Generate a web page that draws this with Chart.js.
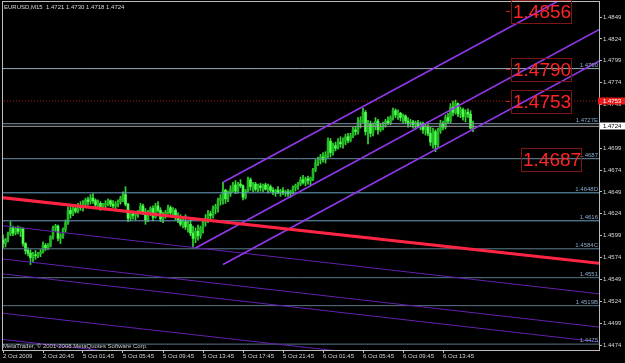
<!DOCTYPE html>
<html>
<head>
<meta charset="utf-8">
<script src="https://cdn.jsdelivr.net/npm/chart.js@4.4.1/dist/chart.umd.min.js"></script>
<style>
  html, body { margin: 0; padding: 0; background: #000; }
  canvas { display: block; }
</style>
</head>
<body>
<canvas id="myChart" width="625" height="363"></canvas>
<script>
const symbol = 'EURUSD';
const period = 'M15';

// M15 bars
const opens = [
  1.4594,1.4590,1.4595,1.4601,1.4608,1.4602,1.4607,1.4604,1.4607,1.4590,
  1.4582,1.4579,1.4574,1.4577,1.4576,1.4578,1.4580,1.4588,1.4585,1.4587,
  1.4598,1.4608,1.4610,1.4596,1.4599,1.4606,1.4614,1.4628,1.4624,1.4630,
  1.4627,1.4633,1.4631,1.4635,1.4640,1.4638,1.4642,1.4639,1.4634,1.4636,
  1.4632,1.4634,1.4636,1.4639,1.4635,1.4633,1.4635,1.4638,1.4642,1.4646,
  1.4635,1.4619,1.4624,1.4622,1.4624,1.4626,1.4633,1.4626,1.4617,1.4626,
  1.4630,1.4620,1.4633,1.4628,1.4618,1.4623,1.4626,1.4631,1.4625,1.4628,
  1.4620,1.4617,1.4612,1.4615,1.4609,1.4612,1.4602,1.4596,1.4604,1.4599,
  1.4608,1.4615,1.4619,1.4624,1.4622,1.4630,1.4632,1.4639,1.4642,1.4651,
  1.4641,1.4647,1.4652,1.4657,1.4650,1.4658,1.4656,1.4643,1.4650,1.4663,
  1.4655,1.4658,1.4652,1.4656,1.4654,1.4657,1.4652,1.4655,1.4651,1.4649,
  1.4651,1.4648,1.4650,1.4648,1.4649,1.4647,1.4650,1.4654,1.4656,1.4658,
  1.4663,1.4660,1.4664,1.4662,1.4665,1.4674,1.4682,1.4686,1.4689,1.4686,
  1.4691,1.4707,1.4694,1.4702,1.4699,1.4706,1.4704,1.4707,1.4712,1.4708,
  1.4713,1.4720,1.4718,1.4729,1.4731,1.4740,1.4718,1.4727,1.4716,1.4724,
  1.4730,1.4720,1.4724,1.4727,1.4730,1.4728,1.4734,1.4742,1.4737,1.4739,
  1.4734,1.4736,1.4730,1.4727,1.4729,1.4726,1.4728,1.4724,1.4727,1.4720,
  1.4723,1.4716,1.4706,1.4718,1.4703,1.4719,1.4727,1.4723,1.4734,1.4730,
  1.4746,1.4740,1.4750,1.4738,1.4743,1.4735,1.4740,1.4738,1.4721
];
const highs = [
  1.4600,1.4596,1.4603,1.4615,1.4610,1.4609,1.4610,1.4609,1.4608,1.4591,
  1.4585,1.4583,1.4580,1.4582,1.4580,1.4583,1.4592,1.4590,1.4590,1.4599,
  1.4610,1.4612,1.4611,1.4601,1.4608,1.4617,1.4632,1.4633,1.4632,1.4634,
  1.4636,1.4638,1.4639,1.4642,1.4643,1.4646,1.4647,1.4641,1.4640,1.4638,
  1.4636,1.4639,1.4641,1.4640,1.4639,1.4638,1.4640,1.4644,1.4649,1.4655,
  1.4636,1.4626,1.4627,1.4625,1.4628,1.4636,1.4635,1.4630,1.4628,1.4632,
  1.4633,1.4636,1.4638,1.4631,1.4626,1.4628,1.4634,1.4633,1.4631,1.4630,
  1.4625,1.4623,1.4618,1.4623,1.4616,1.4617,1.4610,1.4608,1.4611,1.4610,
  1.4618,1.4623,1.4628,1.4627,1.4633,1.4635,1.4642,1.4646,1.4660,1.4652,
  1.4650,1.4656,1.4660,1.4662,1.4660,1.4663,1.4657,1.4652,1.4666,1.4665,
  1.4660,1.4660,1.4658,1.4659,1.4658,1.4659,1.4658,1.4657,1.4654,1.4652,
  1.4655,1.4652,1.4654,1.4651,1.4652,1.4651,1.4656,1.4658,1.4660,1.4666,
  1.4668,1.4666,1.4667,1.4666,1.4676,1.4686,1.4689,1.4692,1.4694,1.4695,
  1.4711,1.4710,1.4705,1.4706,1.4710,1.4712,1.4711,1.4715,1.4716,1.4716,
  1.4723,1.4724,1.4734,1.4735,1.4745,1.4742,1.4731,1.4730,1.4728,1.4734,
  1.4732,1.4727,1.4729,1.4732,1.4735,1.4736,1.4745,1.4744,1.4743,1.4740,
  1.4738,1.4737,1.4734,1.4732,1.4731,1.4730,1.4731,1.4729,1.4729,1.4727,
  1.4726,1.4723,1.4722,1.4720,1.4722,1.4731,1.4730,1.4737,1.4739,1.4750,
  1.4753,1.4754,1.4751,1.4746,1.4745,1.4743,1.4744,1.4742,1.4730
];
const lows = [
  1.4585,1.4586,1.4592,1.4599,1.4599,1.4600,1.4601,1.4598,1.4587,1.4578,
  1.4576,1.4566,1.4569,1.4572,1.4574,1.4575,1.4579,1.4582,1.4583,1.4586,
  1.4595,1.4604,1.4593,1.4590,1.4596,1.4603,1.4612,1.4619,1.4622,1.4625,
  1.4625,1.4628,1.4627,1.4632,1.4634,1.4635,1.4636,1.4631,1.4632,1.4628,
  1.4630,1.4631,1.4633,1.4632,1.4631,1.4630,1.4632,1.4635,1.4638,1.4633,
  1.4615,1.4616,1.4618,1.4617,1.4620,1.4624,1.4623,1.4612,1.4615,1.4622,
  1.4616,1.4619,1.4626,1.4615,1.4614,1.4619,1.4624,1.4623,1.4622,1.4617,
  1.4614,1.4610,1.4608,1.4606,1.4603,1.4599,1.4585,1.4591,1.4594,1.4596,
  1.4602,1.4610,1.4614,1.4617,1.4619,1.4624,1.4626,1.4634,1.4635,1.4636,
  1.4638,1.4644,1.4649,1.4647,1.4648,1.4654,1.4640,1.4641,1.4649,1.4651,
  1.4649,1.4650,1.4649,1.4650,1.4649,1.4651,1.4648,1.4649,1.4646,1.4644,
  1.4647,1.4644,1.4646,1.4644,1.4644,1.4643,1.4647,1.4650,1.4652,1.4656,
  1.4658,1.4656,1.4658,1.4657,1.4662,1.4672,1.4679,1.4681,1.4683,1.4682,
  1.4688,1.4689,1.4691,1.4696,1.4698,1.4700,1.4699,1.4703,1.4705,1.4706,
  1.4711,1.4714,1.4715,1.4722,1.4728,1.4714,1.4704,1.4712,1.4713,1.4720,
  1.4715,1.4718,1.4720,1.4723,1.4726,1.4726,1.4731,1.4734,1.4732,1.4730,
  1.4728,1.4727,1.4723,1.4724,1.4722,1.4721,1.4723,1.4720,1.4716,1.4714,
  1.4713,1.4702,1.4699,1.4695,1.4700,1.4716,1.4720,1.4721,1.4727,1.4728,
  1.4736,1.4738,1.4735,1.4734,1.4731,1.4729,1.4734,1.4721,1.4718
];
const closes = [
  1.4590,1.4595,1.4601,1.4608,1.4602,1.4607,1.4604,1.4607,1.4590,1.4582,
  1.4579,1.4574,1.4577,1.4576,1.4578,1.4580,1.4588,1.4585,1.4587,1.4598,
  1.4608,1.4610,1.4596,1.4599,1.4606,1.4614,1.4628,1.4624,1.4630,1.4627,
  1.4633,1.4631,1.4635,1.4640,1.4638,1.4642,1.4639,1.4634,1.4636,1.4632,
  1.4634,1.4636,1.4639,1.4635,1.4633,1.4635,1.4638,1.4642,1.4646,1.4635,
  1.4619,1.4624,1.4622,1.4624,1.4626,1.4633,1.4626,1.4617,1.4626,1.4630,
  1.4620,1.4633,1.4628,1.4618,1.4623,1.4626,1.4631,1.4625,1.4628,1.4620,
  1.4617,1.4612,1.4615,1.4609,1.4612,1.4602,1.4596,1.4604,1.4599,1.4608,
  1.4615,1.4619,1.4624,1.4622,1.4630,1.4632,1.4639,1.4642,1.4651,1.4641,
  1.4647,1.4652,1.4657,1.4650,1.4658,1.4656,1.4643,1.4650,1.4663,1.4655,
  1.4658,1.4652,1.4656,1.4654,1.4657,1.4652,1.4655,1.4651,1.4649,1.4651,
  1.4648,1.4650,1.4648,1.4649,1.4647,1.4650,1.4654,1.4656,1.4658,1.4663,
  1.4660,1.4664,1.4662,1.4665,1.4674,1.4682,1.4686,1.4689,1.4686,1.4691,
  1.4707,1.4694,1.4702,1.4699,1.4706,1.4704,1.4707,1.4712,1.4708,1.4713,
  1.4720,1.4718,1.4729,1.4731,1.4740,1.4718,1.4727,1.4716,1.4724,1.4730,
  1.4720,1.4724,1.4727,1.4730,1.4728,1.4734,1.4742,1.4737,1.4739,1.4734,
  1.4736,1.4730,1.4727,1.4729,1.4726,1.4728,1.4724,1.4727,1.4720,1.4723,
  1.4716,1.4706,1.4718,1.4703,1.4719,1.4727,1.4723,1.4734,1.4730,1.4746,
  1.4740,1.4750,1.4738,1.4743,1.4735,1.4740,1.4738,1.4722,1.4724
];

// time axis: bar index -> label
const tickBars = [0, 16, 32, 48, 64, 80, 96, 112, 128, 144, 160, 176];
const tickLabels = ['2 Oct 2009', '2 Oct 20:45', '5 Oct 01:45', '5 Oct 05:45', '5 Oct 09:45', '5 Oct 13:45',
  '5 Oct 17:45', '5 Oct 21:45', '6 Oct 01:45', '6 Oct 05:45', '6 Oct 09:45', '6 Oct 13:45'];

// price axis
const priceTicks = [1.4474, 1.4499, 1.4524, 1.4549, 1.4574, 1.4599, 1.4624, 1.4649,
  1.4674, 1.4699, 1.4724, 1.4749, 1.4774, 1.4799, 1.4824, 1.4849];

// horizontal lines and their descriptions
const levelPrices = [1.4790, 1.4727, 1.4687, 1.4648, 1.4616, 1.4584, 1.4551, 1.4519, 1.4475];
const levelNames = ['1.4790', '1.4727E', '1.4687', '1.4648D', '1.4616', '1.4584C', '1.4551', '1.4519B', '1.4475'];
const bidPrice = 1.4724;
const highPrice = 1.4753;

// big text objects: price, bar index
const bigLabelPrices = [1.4856, 1.4790, 1.4753, 1.4687];
const bigLabelBars = [203, 203, 203, 207];

// trend lines as [bar, price] pairs
const redRay = [[-2, 1.4643], [240, 1.4567]];
const channelLines = [
  [[88, 1.4660], [240, 1.4895]],
  [[77, 1.4585], [240, 1.4837]],
  [[88, 1.4566], [240, 1.4801]],
];
const downLines = [
  [[-2, 1.4611], [240, 1.4532]],
  [[-2, 1.4573], [240, 1.4494]],
  [[-2, 1.4556], [240, 1.4477]],
  [[-2, 1.4511], [240, 1.4433]],
  [[-2, 1.4481], [240, 1.4403]],
];

const FONT = '"Liberation Sans", Arial, sans-serif';
const levelColors = ['#9aaebc', '#7d97aa', '#6b8ea6', '#6aa3c4', '#6aa3c4', '#5f7f90', '#567686', '#567686', '#567686'];

function seg(points, color, width, dash, order) {
  return {
    type: 'line',
    data: points.map(p => ({ x: p[0], y: p[1] })),
    borderColor: color,
    borderWidth: width,
    borderDash: dash || [],
    pointRadius: 0,
    fill: false,
    tension: 0,
    order: order,
  };
}

const wickData = opens.map((o, i) => ({ x: i, y: [lows[i], highs[i]] }));
const bodyData = opens.map((o, i) => ({ x: i, y: [Math.min(o, closes[i]), Math.max(o, closes[i])] }));
const bodyColors = opens.map((o, i) => closes[i] > o ? '#22b622' : '#4cff4c');

const datasets = [
  { type: 'bar', data: wickData, backgroundColor: '#34d834', barThickness: 1, grouped: false, order: 5 },
  { type: 'bar', data: bodyData, backgroundColor: bodyColors, barThickness: 2, minBarLength: 1, grouped: false, order: 4 },
];
levelPrices.forEach((p, i) => datasets.push(seg([[-2, p], [240, p]], levelColors[i], 1, null, 3)));
datasets.push(seg([[-2, bidPrice], [240, bidPrice]], '#9c9c9c', 1, null, 3));
datasets.push(seg([[-2, highPrice], [240, highPrice]], '#b01818', 1, [1, 2], 3));
downLines.forEach(l => datasets.push(seg(l, '#6420ae', 1, null, 2)));
channelLines.forEach(l => datasets.push(seg(l, '#9438ee', 1.6, null, 1)));
datasets.push(seg(redRay, '#ff2444', 3, null, 0));

const background = {
  id: 'background',
  beforeDraw(chart) {
    const ctx = chart.ctx;
    ctx.save();
    ctx.fillStyle = '#000';
    ctx.fillRect(0, 0, chart.width, chart.height);
    ctx.restore();
  }
};

const overlay = {
  id: 'overlay',
  afterDraw(chart) {
    const ctx = chart.ctx, a = chart.chartArea;
    const xs = chart.scales.x, ys = chart.scales.y;
    const last = opens.length - 1;
    ctx.save();

    ctx.strokeStyle = '#bcbcbc';
    ctx.lineWidth = 1;
    ctx.strokeRect(a.left + 0.5, a.top + 0.5, a.right - a.left, a.bottom - a.top);

    ctx.font = '6px ' + FONT;
    ctx.textBaseline = 'top';
    ctx.textAlign = 'left';
    ctx.fillStyle = '#d8d8d8';
    ctx.fillText(symbol + ',' + period + '  ' + [opens[last], highs[last], lows[last], closes[last]].map(v => v.toFixed(4)).join(' '), 4, 4);

    ctx.textBaseline = 'alphabetic';
    ctx.fillStyle = '#c8c8c8';
    ctx.fillText('MetaTrader, © 2001-2008 MetaQuotes Software Corp.', 3, 348);

    // line descriptions
    ctx.textAlign = 'right';
    ctx.textBaseline = 'bottom';
    ctx.fillStyle = '#86aacb';
    levelPrices.forEach((p, i) => ctx.fillText(levelNames[i], a.right - 1, ys.getPixelForValue(p) - 0.5));

    // big price labels
    ctx.font = '19px ' + FONT;
    ctx.textAlign = 'left';
    ctx.textBaseline = 'middle';
    bigLabelPrices.forEach((p, i) => {
      const x = Math.round(xs.getPixelForValue(bigLabelBars[i]));
      const y = Math.round(ys.getPixelForValue(p)) + 1;
      ctx.strokeStyle = '#7c1616';
      ctx.strokeRect(x + 0.5, y - 11.5, 60, 23);
      ctx.fillStyle = '#ff2424';
      ctx.fillText(p.toFixed(4), x + 2, y + 1);
      if (i < 3) {
        ctx.strokeStyle = '#c82020';
        ctx.beginPath();
        ctx.moveTo(x - 5, y - 0.5);
        ctx.lineTo(x - 1, y - 0.5);
        ctx.stroke();
      }
    });

    // axis price markers
    ctx.font = '6px ' + FONT;
    const yh = ys.getPixelForValue(highPrice);
    ctx.fillStyle = '#e81c1c';
    ctx.fillRect(598, Math.round(yh) - 3.5, 27, 7);
    ctx.fillStyle = '#fff';
    ctx.fillText(highPrice.toFixed(4), 603, yh);
    const yb = ys.getPixelForValue(bidPrice);
    ctx.fillStyle = '#fff';
    ctx.fillRect(600, Math.round(yb) - 3.5, 25, 7);
    ctx.fillStyle = '#000';
    ctx.fillText(bidPrice.toFixed(4), 603, yb);

    ctx.restore();
  }
};

const ctx = document.getElementById('myChart').getContext('2d');
const chart = new Chart(ctx, {
  data: { datasets },
  options: {
    responsive: false,
    animation: false,
    devicePixelRatio: 1,
    layout: { padding: { left: 2, top: 1, right: 0, bottom: 0 } },
    plugins: { legend: { display: false }, tooltip: { enabled: false } },
    scales: {
      x: {
        type: 'linear',
        offset: false,
        min: -0.4,
        max: 238.4,
        afterBuildTicks: s => { s.ticks = tickBars.map(v => ({ value: v })); },
        afterFit: s => { s.height = 13; s.paddingLeft = 0; s.paddingRight = 0; },
        border: { display: false },
        grid: { offset: false, drawOnChartArea: false, drawTicks: true, tickLength: 3, color: '#c0c0c0' },
        ticks: {
          autoSkip: false, maxRotation: 0, align: 'start', padding: 0,
          color: '#d8d8d8', font: { family: FONT, size: 6 },
          callback: v => { const k = tickBars.indexOf(v); return k < 0 ? '' : tickLabels[k]; }
        }
      },
      y: {
        position: 'right',
        min: 1.44683,
        max: 1.48673,
        afterBuildTicks: s => { s.ticks = priceTicks.map(v => ({ value: v })); },
        afterFit: s => { s.width = 26; s.paddingTop = 0; s.paddingBottom = 0; },
        border: { display: false },
        grid: { drawOnChartArea: false, drawTicks: true, tickLength: 3, color: '#c0c0c0' },
        ticks: {
          autoSkip: false, padding: 1,
          color: '#d8d8d8', font: { family: FONT, size: 6 },
          callback: v => v.toFixed(4)
        }
      }
    }
  },
  plugins: [background, overlay]
});
</script>
</body>
</html>
